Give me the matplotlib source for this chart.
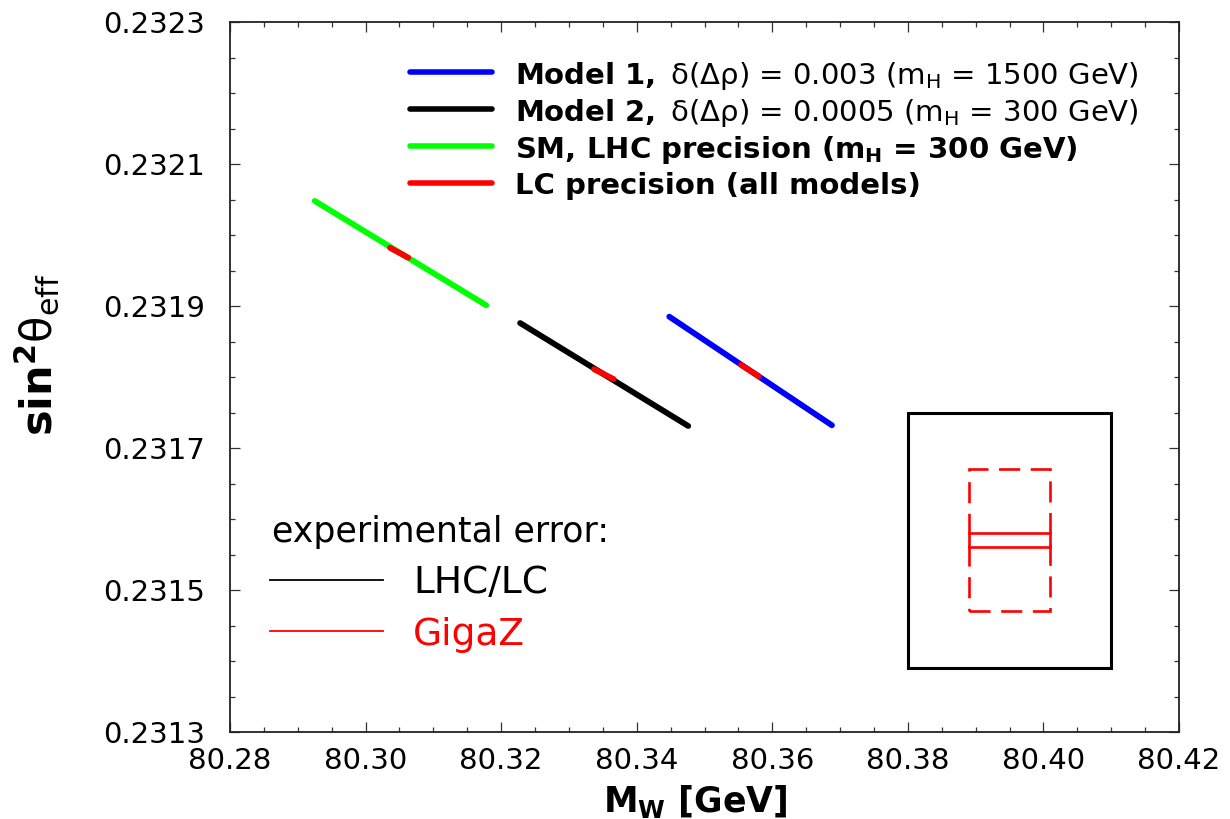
import matplotlib
matplotlib.use('Agg')
import matplotlib.pyplot as plt
from matplotlib.patches import Rectangle
from matplotlib.ticker import MultipleLocator, FixedLocator

plt.rcParams['font.family'] = ['DejaVu Sans']
plt.rcParams['mathtext.fontset'] = 'dejavusans'

# ---- data ----
sm_mw = [80.2925, 80.3178]
sm_s2 = [0.232048, 0.231901]
sm_lc_mw = [80.3036, 80.3063]
sm_lc_s2 = [0.231982, 0.231968]

model2_mw = [80.3228, 80.3476]
model2_s2 = [0.231876, 0.231731]
model2_lc_mw = [80.3337, 80.3366]
model2_lc_s2 = [0.231811, 0.231797]

model1_mw = [80.3448, 80.3688]
model1_s2 = [0.231885, 0.231732]
model1_lc_mw = [80.3554, 80.3580]
model1_lc_s2 = [0.231817, 0.231801]

# error-box illustration
err_center = (80.395, 0.23157)
lhc_err = (0.015, 0.00018)
lc_err = (0.006, 0.00010)
gigaz_err = (0.006, 0.00001)

x_ticks = [80.28, 80.30, 80.32, 80.34, 80.36, 80.38, 80.40, 80.42]
y_ticks = [0.2313, 0.2315, 0.2317, 0.2319, 0.2321, 0.2323]

legend_labels = [
    r"$\mathbf{Model\ 1,\ }$δ(Δρ) = 0.003 (m$_{\mathrm{H}}$ = 1500 GeV)",
    r"$\mathbf{Model\ 2,\ }$δ(Δρ) = 0.0005 (m$_{\mathrm{H}}$ = 300 GeV)",
    r"SM, LHC precision (m$_{\mathbf{H}}$ = 300 GeV)",
    r"LC precision (all models)",
]
legend_colors = ['#0000ff', '#000000', '#00ff00', '#ff0000']
legend_bold = [False, False, True, True]

fig = plt.figure(figsize=(12.3, 8.19), dpi=100)
ax = fig.add_axes([230/1230, 1-732/819, 949/1230, 710/819])

lw = 4.2
ax.plot(sm_mw, sm_s2, color='#00ff00', lw=lw, solid_capstyle='round')
ax.plot(sm_lc_mw, sm_lc_s2, color='#ff0000', lw=lw, solid_capstyle='round')
ax.plot(model2_mw, model2_s2, color='#000000', lw=lw, solid_capstyle='round')
ax.plot(model2_lc_mw, model2_lc_s2, color='#ff0000', lw=lw, solid_capstyle='round')
ax.plot(model1_mw, model1_s2, color='#0000ff', lw=lw, solid_capstyle='round')
ax.plot(model1_lc_mw, model1_lc_s2, color='#ff0000', lw=lw, solid_capstyle='round')

cx, cy = err_center
ax.add_patch(Rectangle((cx - lhc_err[0], cy - lhc_err[1]), 2*lhc_err[0], 2*lhc_err[1],
                       fill=False, ec='black', lw=2.2))
ax.add_patch(Rectangle((cx - lc_err[0], cy - lc_err[1]), 2*lc_err[0], 2*lc_err[1],
                       fill=False, ec='#ff0000', lw=1.9, ls=(0, (8, 4))))
ax.add_patch(Rectangle((cx - gigaz_err[0], cy - gigaz_err[1]), 2*gigaz_err[0], 2*gigaz_err[1],
                       fill=False, ec='#ff0000', lw=1.9))

ax.set_xlim(80.28, 80.42)
ax.set_ylim(0.2313, 0.2323)
ax.xaxis.set_major_locator(FixedLocator(x_ticks))
ax.yaxis.set_major_locator(FixedLocator(y_ticks))
ax.set_xticklabels([f"{v:.2f}" for v in x_ticks])
ax.set_yticklabels([f"{v:.4f}" for v in y_ticks])
ax.xaxis.set_minor_locator(MultipleLocator(0.005))
ax.yaxis.set_minor_locator(MultipleLocator(0.00005))
ax.tick_params(which='both', direction='in', top=True, right=True, width=0.9, color='#333333')
ax.tick_params(which='major', length=7)
ax.tick_params(which='minor', length=3.8)
ax.tick_params(axis='x', which='major', labelsize=21, pad=11)
ax.tick_params(axis='y', which='major', labelsize=21, pad=18)
for s in ax.spines.values():
    s.set_linewidth(1.3)
    s.set_color('#222222')

ax.set_xlabel(r"$\mathbf{M_W}$ [GeV]", fontsize=25, fontweight='bold')
ax.xaxis.set_label_coords(0.49, -0.072)
ax.set_ylabel(r"$\mathbf{sin}^{\mathbf{2}}$θ$_{\mathrm{eff}}$", fontsize=31, fontweight='normal')
ax.yaxis.set_label_coords(-0.178, 0.531)

# top legend
rows_y = [0.9296, 0.8775, 0.8254, 0.7732]
for lab, col, bold, yy in zip(legend_labels, legend_colors, legend_bold, rows_y):
    ax.plot([0.1897, 0.2761], [yy, yy], transform=ax.transAxes, color=col, lw=4,
            solid_capstyle='round')
    ax.text(0.3003, yy, lab, transform=ax.transAxes, fontsize=21,
            fontweight='bold' if bold else 'normal', va='center_baseline', ha='left')

# experimental error legend
ax.text(0.0443, 0.2676, "experimental error:", transform=ax.transAxes, fontsize=25,
        va='baseline', ha='left')
ax.plot([0.0421, 0.1612], [0.2141, 0.2141], transform=ax.transAxes, color='black', lw=1.3)
ax.plot([0.0421, 0.1612], [0.1423, 0.1423], transform=ax.transAxes, color='#ff0000', lw=1.3)
ax.text(0.1928, 0.1958, "LHC/LC", transform=ax.transAxes, fontsize=27,
        va='baseline', ha='left', color='black')
ax.text(0.1928, 0.1225, "GigaZ", transform=ax.transAxes, fontsize=27,
        va='baseline', ha='left', color='#ff0000')

fig.savefig('out.png', dpi=100)
